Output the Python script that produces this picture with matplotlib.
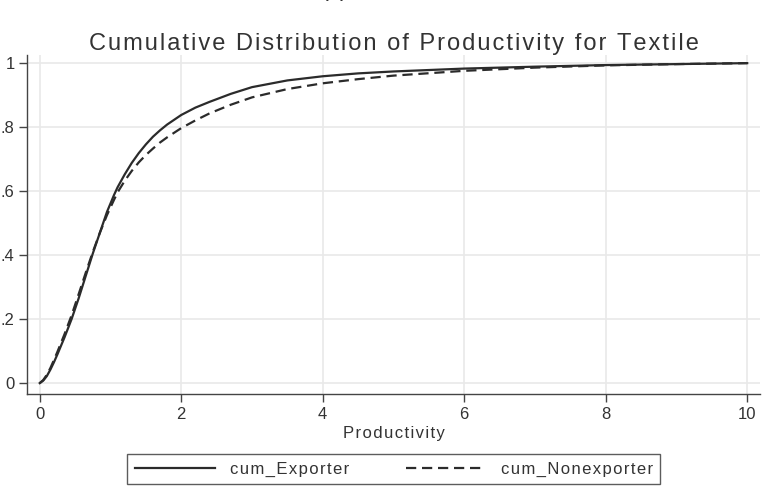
import numpy as np
import matplotlib
matplotlib.use("Agg")
import matplotlib.pyplot as plt

# values
productivity = [0, 0.05, 0.1, 0.15, 0.2, 0.25, 0.35, 0.45, 0.55, 0.65, 0.75, 0.85, 0.95, 1.05,
                1.1, 1.2, 1.3, 1.4, 1.5, 1.6, 1.7, 1.8, 2.0, 2.2, 2.4, 2.7, 3.0, 3.5, 4.0,
                4.5, 5.0, 6.0, 7.0, 8.0, 9.0, 10.0]
cum_exporter = [0, 0.008, 0.022, 0.042, 0.065, 0.09, 0.143, 0.20, 0.265, 0.335, 0.405, 0.47,
                0.535, 0.588, 0.612, 0.652, 0.688, 0.719, 0.746, 0.770, 0.790, 0.808, 0.838,
                0.861, 0.879, 0.904, 0.925, 0.946, 0.959, 0.968, 0.974, 0.983, 0.989, 0.994,
                0.997, 1.0]
cum_nonexporter = [0, 0.01, 0.026, 0.047, 0.072, 0.098, 0.153, 0.212, 0.278, 0.345, 0.41, 0.47,
                   0.525, 0.573, 0.596, 0.632, 0.663, 0.690, 0.713, 0.733, 0.752, 0.768, 0.797,
                   0.821, 0.843, 0.870, 0.893, 0.919, 0.937, 0.950, 0.961, 0.976, 0.986, 0.993,
                   0.997, 1.0]
xticks = [0, 2, 4, 6, 8, 10]
yticks = [0, 0.2, 0.4, 0.6, 0.8, 1.0]
ylabels = ["0", ".2", ".4", ".6", ".8", "1"]
title = 'Cumulative Distribution of Productivity for Textile'
xlabel = 'Productivity'
names = ['cum_Exporter', 'cum_Nonexporter']

plt.rcParams['font.family'] = ['Liberation Sans', 'DejaVu Sans']
txt = '#333333'

def spaced(s):
    # stata-like letter spacing
    return '\u200a'.join(s)

fig = plt.figure(figsize=(7.63, 4.88), dpi=100)
ax = fig.add_axes([0.0354, 0.1926, 0.9606, 0.6944])

ax.plot(productivity, cum_exporter, color='#2b2b2b', lw=1.6, label=spaced(names[0]))
ln, = ax.plot(productivity, cum_nonexporter, color='#2b2b2b', lw=1.6, label=spaced(names[1]))
ln.set_dashes((4.6, 2.6))

ax.set_xlim(-0.18, 10.18)
ax.set_ylim(-0.034, 1.025)
ax.set_xticks(xticks)
ax.set_yticks(yticks)
ax.set_yticklabels(ylabels)
ax.grid(True, color='#e9e9e9', lw=1.2)
ax.set_axisbelow(True)
for s in ['top', 'right']:
    ax.spines[s].set_visible(False)
for s in ['left', 'bottom']:
    ax.spines[s].set_color('#444444')
    ax.spines[s].set_linewidth(1.0)
ax.tick_params(length=6, width=1.0, color='#444444', labelcolor=txt, labelsize=12, pad=3)

ax.set_xlabel(spaced(xlabel), fontsize=12, color=txt, labelpad=3)
ax.set_title(spaced(title), fontsize=17, color=txt, pad=1)

fig.text(0.438, 1.008, '(c)', fontsize=17, color=txt, ha='center', va='baseline')

leg = fig.legend(loc='center', bbox_to_anchor=(0.516, 0.0385), ncol=2, fontsize=12,
                 frameon=True, fancybox=False, handlelength=4.8, columnspacing=3.4,
                 handletextpad=0.9, borderpad=0.45, labelcolor=txt)
leg.get_frame().set_edgecolor('#333333')
leg.get_frame().set_linewidth(1.0)

fig.savefig('out.png', dpi=100)
